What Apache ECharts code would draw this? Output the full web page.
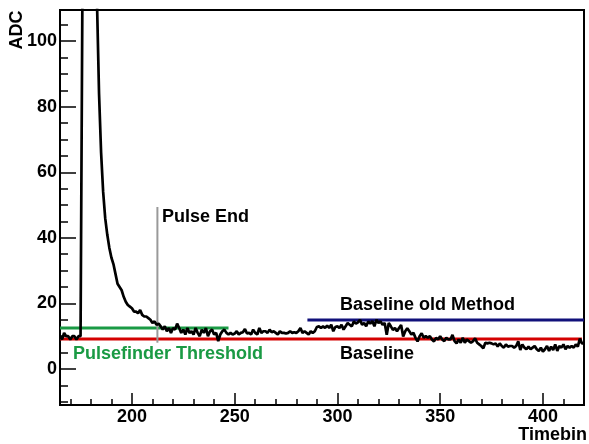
<!DOCTYPE html>
<html>
<head>
<meta charset="utf-8">
<script src="https://cdn.jsdelivr.net/npm/echarts@6/dist/echarts.min.js"></script>
<style>
  html, body { margin: 0; padding: 0; background: #fff; }
  #chart { width: 589px; height: 444px; }
</style>
</head>
<body>
<div id="chart"></div>
<script>
// waveform: one ADC value per timebin, starting at firstBin
const firstBin = 165
const adcValues = [
  10, 9, 11, 10, 10, 9, 10, 10, 9, 10,
  10, 125, 380, 360, 320, 270, 215, 160, 112, 84,
  66, 54, 46, 41, 37, 34, 32, 29, 26, 25,
  24, 22, 20.5, 19.5, 19, 18.5, 17.5, 17.5, 17, 18,
  16.5, 16, 16, 15.5, 15, 14, 14.5, 13.5, 13.8, 13,
  12, 13, 11.5, 12.5, 11, 12.5, 12, 13.8, 12.5, 11,
  12, 10.5, 12.5, 11, 11.5, 10.5, 12.5, 11, 10, 12,
  11, 12.5, 10, 11.5, 12, 10.5, 11, 8.5, 10.5, 11.5,
  12, 11, 10.5, 11, 10.5, 10.8, 11.5, 10.5, 11, 11.2,
  12.2, 10.8, 11, 10.5, 12, 11, 10.5, 12.5, 11, 11.5,
  11.5, 11, 12, 11.2, 11.5, 11, 10.5, 11.5, 11, 11,
  10.8, 11, 11.5, 11, 11.2, 11, 11.5, 12.5, 11, 11.5,
  11, 10.5, 11.5, 11, 11.5, 12.8, 13, 12.5, 13, 12.5,
  13.2, 12.5, 13.5, 11.5, 12.8, 13, 12.5, 13.5, 12, 13,
  14, 13.5, 13, 14.5, 13.8, 14.2, 15, 13.5, 14, 13,
  14.5, 13.8, 14.6, 13, 15, 14, 14.5, 13.5, 14, 10.4,
  14, 13, 11.9, 12.5, 11.5, 12.5, 13.4, 9.9, 11.5, 12.4,
  11.5, 10.5, 11, 9.5, 8.4, 10, 10.9, 9.5, 10, 9.5,
  10, 9, 8.4, 9.5, 9, 10, 9, 8.5, 9.5, 9,
  9, 10.4, 8.5, 7.8, 9, 8, 9.5, 8, 9, 8.5,
  8, 8.5, 9.3, 8, 7.5, 7, 6.3, 8, 7.8, 8,
  7.8, 7.5, 7.8, 6.8, 7.8, 7, 6.5, 7.5, 6.8, 7,
  7, 6.5, 7, 8.4, 5.8, 7.5, 6.5, 6, 6.8, 6,
  6.5, 7, 6, 5.5, 6.5, 5.3, 6, 7, 5.5, 6.8,
  5.8, 7.5, 5.5, 7, 6.5, 7.5, 6, 7, 6.5, 7,
  6.5, 7.5, 6.8, 9.3, 7.8, 7.8
]

// reference lines
const thresholdValue = 12.5
const thresholdRange = [165, 247]
const baselineValue = 9.1
const baselineRange = [165, 419]
const oldBaselineValue = 14.9
const oldBaselineRange = [285.4, 420]
const pulseEndBin = 212.4
const pulseEndRange = [8, 49.4]

// axis ticks
const xLabels = [200, 250, 300, 350, 400]
const xMinorTicks = [170, 180, 190, 210, 220, 230, 240, 260, 270, 280, 290, 310, 320, 330, 340, 360, 370, 380, 390, 410]
const yLabels = [0, 20, 40, 60, 80, 100]
const yMinorTicks = [-10, -5, 5, 10, 15, 25, 30, 35, 45, 50, 55, 65, 70, 75, 85, 90, 95, 105]

const chart = echarts.init(document.getElementById('chart'), null, { renderer: 'canvas' })

const font = 'Liberation Sans, Arial, Helvetica, sans-serif'
const xMin = 165, xMax = 420, yMin = -11, yMax = 109.5

function hLine(range, y) {
  return [[range[0], y], [range[1], y]]
}

chart.setOption({
  animation: false,
  grid: { left: 60, right: 5, top: 10, bottom: 39, show: true, borderColor: '#000', borderWidth: 2 },
  xAxis: [{
    type: 'value', min: xMin, max: xMax, position: 'bottom',
    axisLine: { onZero: false, lineStyle: { color: '#000', width: 2 } },
    axisTick: { inside: true, length: 12, customValues: xLabels, lineStyle: { color: '#000', width: 1.5 } },
    axisLabel: { customValues: xLabels, margin: 3, color: '#000', fontFamily: font, fontWeight: 'bold', fontSize: 18 },
    splitLine: { show: false }
  }, {
    type: 'value', min: xMin, max: xMax, position: 'bottom',
    axisLine: { show: false, onZero: false },
    axisTick: { inside: true, length: 6, customValues: xMinorTicks, lineStyle: { color: '#000', width: 1.5 } },
    axisLabel: { show: false },
    splitLine: { show: false }
  }],
  yAxis: [{
    type: 'value', min: yMin, max: yMax, position: 'left',
    axisLine: { show: true, onZero: false, lineStyle: { color: '#000', width: 2 } },
    axisTick: { show: true, inside: true, length: 16, customValues: yLabels, lineStyle: { color: '#000', width: 1.5 } },
    axisLabel: { customValues: yLabels, margin: 3, color: '#000', fontFamily: font, fontWeight: 'bold', fontSize: 18 },
    splitLine: { show: false }
  }, {
    type: 'value', min: yMin, max: yMax, position: 'left', offset: 0,
    axisLine: { show: false, onZero: false },
    axisTick: { show: true, inside: true, length: 8, customValues: yMinorTicks, lineStyle: { color: '#000', width: 1.5 } },
    axisLabel: { show: false },
    splitLine: { show: false }
  }],
  series: [
    {
      type: 'line', name: 'Pulsefinder Threshold', symbol: 'none', silent: true,
      data: hLine(thresholdRange, thresholdValue),
      lineStyle: { color: '#1a9a44', width: 3 }
    },
    {
      type: 'line', name: 'Baseline', symbol: 'none', silent: true,
      data: hLine(baselineRange, baselineValue),
      lineStyle: { color: '#d40000', width: 3 }
    },
    {
      type: 'line', name: 'Baseline old Method', symbol: 'none', silent: true,
      data: hLine(oldBaselineRange, oldBaselineValue),
      lineStyle: { color: '#10107a', width: 3 }
    },
    {
      type: 'line', name: 'Pulse End', symbol: 'none', silent: true,
      data: [[pulseEndBin, pulseEndRange[0]], [pulseEndBin, pulseEndRange[1]]],
      lineStyle: { color: '#999', width: 2 }
    },
    {
      type: 'line', name: 'ADC', symbol: 'none', silent: true, clip: true,
      data: adcValues.map((v, i) => [firstBin + i, v]),
      lineStyle: { color: '#000', width: 2.7 }
    }
  ],
  graphic: [
    { type: 'text', x: 162, y: 217, style: { text: 'Pulse End', font: 'bold 18px ' + font, fill: '#000', verticalAlign: 'middle' } },
    { type: 'text', x: 340, y: 305, style: { text: 'Baseline old Method', font: 'bold 18px ' + font, fill: '#000', verticalAlign: 'middle' } },
    { type: 'text', x: 340, y: 354, style: { text: 'Baseline', font: 'bold 18px ' + font, fill: '#000', verticalAlign: 'middle' } },
    { type: 'text', x: 73, y: 354, style: { text: 'Pulsefinder Threshold', font: 'bold 18px ' + font, fill: '#1a9a44', verticalAlign: 'middle' } },
    { type: 'text', x: 587, y: 435, style: { text: 'Timebin', font: 'bold 18px ' + font, fill: '#000', align: 'right', verticalAlign: 'middle' } },
    { type: 'text', x: 17, y: 30, rotation: Math.PI / 2, style: { text: 'ADC', font: 'bold 18px ' + font, fill: '#000', align: 'center', verticalAlign: 'middle' } }
  ]
})
</script>
</body>
</html>
